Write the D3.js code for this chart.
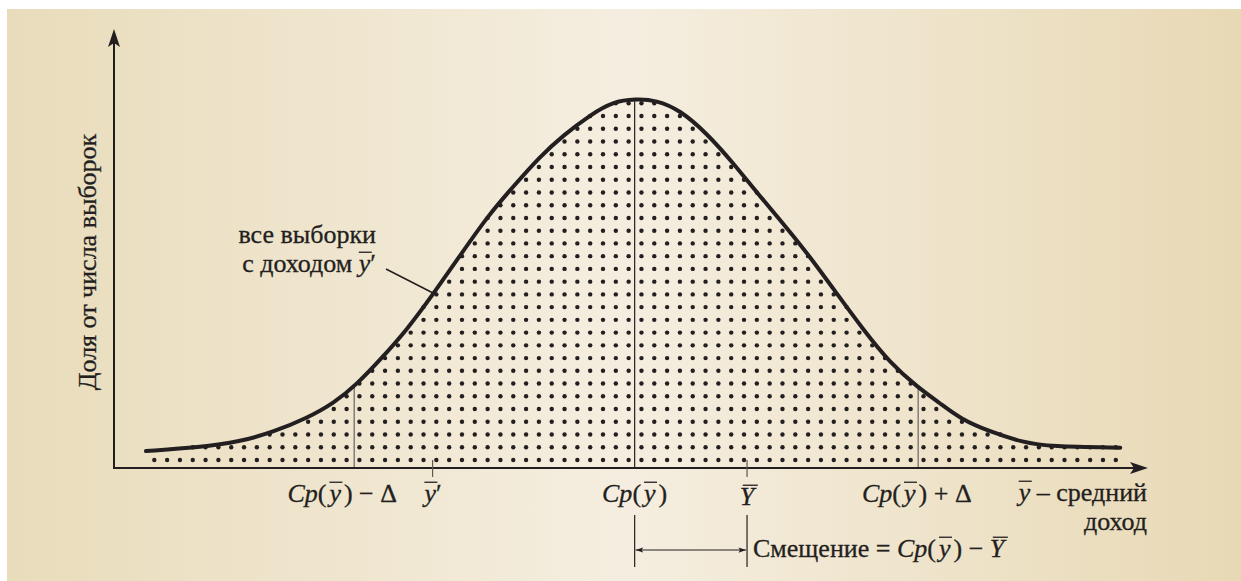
<!DOCTYPE html>
<html>
<head>
<meta charset="utf-8">
<script src="https://cdn.jsdelivr.net/npm/d3@7"></script>
</head>
<body style="margin:0;background:#fff">
<script>
// curve: income (0..100) vs share of samples (0..100)
const incomeX = [3.1, 8.3, 12.2, 15.5, 18.7, 21.3, 23.6, 25.8, 28.4, 31.0, 33.6, 36.2, 38.7, 41.3, 43.6, 46.2, 48.4, 50.6,
                 52.6, 54.9, 57.5, 60.1, 62.3, 64.9, 67.5, 70.1, 72.7, 75.3, 77.9, 80.1, 82.1, 85.0, 88.2, 90.8, 97.6]
const share = [4.6, 5.6, 7.1, 9.8, 13.5, 17.5, 22.8, 29.3, 37.4, 47.3, 57.7, 68.1, 76.2, 84.4, 90.2, 95.7, 99.3, 100,
               99.7, 97.0, 90.7, 82.5, 74.8, 66.3, 57.3, 47.3, 37.4, 28.4, 22.0, 17.6, 13.3, 9.8, 6.9, 5.8, 5.5]

// marked positions on the income axis
const meanCp = 50.5      // Cp(y)
const minusDelta = 23.3  // Cp(y) - Δ
const plusDelta = 78.0   // Cp(y) + Δ
const sampleY = 30.9     // y'
const trueY = 61.4       // Y

const W = 1241, H = 581
const ink = "#231f20"
const FS = 26

const x = d3.scaleLinear().domain([0, 100]).range([114, 1145])
const y = d3.scaleLinear().domain([0, 100]).range([468, 99])

const svg = d3.select("body").append("svg").attr("width", W).attr("height", H)

// background panel with soft gradient
const defs = svg.append("defs")
const grad = defs.append("linearGradient").attr("id", "bg")
grad.append("stop").attr("offset", "0%").attr("stop-color", "#e9dcbb")
grad.append("stop").attr("offset", "50%").attr("stop-color", "#f5eee0")
grad.append("stop").attr("offset", "100%").attr("stop-color", "#e8d9b5")

const small = defs.append("marker").attr("id", "tip").attr("viewBox", "0 -4 10 8")
  .attr("refX", 10).attr("refY", 0).attr("markerWidth", 8).attr("markerHeight", 6)
  .attr("markerUnits", "userSpaceOnUse").attr("orient", "auto-start-reverse")
small.append("path").attr("d", "M0,-3.5L10,0L0,3.5L2,0Z").attr("fill", ink)

svg.append("rect").attr("width", W).attr("height", H).attr("fill", "#fff")
svg.append("rect").attr("x", 7).attr("y", 9).attr("width", W - 7).attr("height", H - 9).attr("fill", "url(#bg)")

// smooth curve through the read points
const pts = incomeX.map((v, i) => [v, share[i]])
const curve = d3.line().x(d => x(d[0])).y(d => y(d[1])).curve(d3.curveBasis)
const curvePath = curve(pts)

// sample the drawn path so dots follow the same outline
const probe = svg.append("path").attr("d", curvePath).attr("fill", "none")
const len = probe.node().getTotalLength()
const outline = d3.range(0, len, 2).map(l => probe.node().getPointAtLength(l))
probe.remove()
const curveAt = d3.scaleLinear().domain(outline.map(p => p.x)).range(outline.map(p => p.y)).clamp(true)

// dotted fill under the curve
const dots = []
for (let r = 0; r < 29; r++) {
  for (let c = 0; c < 76; c++) {
    const px = 154.3 + c * 12.82, py = 460 - r * 12.74
    if (py >= curveAt(px) - 0.8) dots.push([px, py])
  }
}
svg.append("g").selectAll("circle").data(dots).enter()
  .append("circle")
  .attr("cx", d => d[0]).attr("cy", d => d[1]).attr("r", 2.2)
  .attr("fill", ink)

// vertical reference lines up to the curve
svg.append("line").attr("x1", x(meanCp)).attr("x2", x(meanCp))
  .attr("y1", y(0)).attr("y2", curveAt(x(meanCp)))
  .attr("stroke", ink).attr("stroke-width", 1.2)
;[minusDelta, plusDelta].forEach(v => {
  svg.append("line").attr("x1", x(v)).attr("x2", x(v))
    .attr("y1", y(0)).attr("y2", curveAt(x(v)))
    .attr("stroke", "#7d776e").attr("stroke-width", 1.4)
})

// the curve itself
svg.append("path").attr("d", curvePath)
  .attr("fill", "none").attr("stroke", ink).attr("stroke-width", 4).attr("stroke-linecap", "round")

// axes with arrowheads
svg.append("line").attr("x1", 114).attr("x2", 114).attr("y1", 469).attr("y2", 40)
  .attr("stroke", ink).attr("stroke-width", 2)
svg.append("line").attr("x1", 113).attr("x2", 1135).attr("y1", 468).attr("y2", 468)
  .attr("stroke", ink).attr("stroke-width", 2)
svg.append("path").attr("d", "M114,29L120,47L114,43L108,47Z").attr("fill", ink)
svg.append("path").attr("d", "M1148,468L1130,462L1134,468L1130,474Z").attr("fill", ink)

// small ticks for y' and Y
;[sampleY, trueY].forEach(v => {
  svg.append("line").attr("x1", x(v)).attr("x2", x(v)).attr("y1", 460).attr("y2", 477)
    .attr("stroke", "#5e5850").attr("stroke-width", 1.2)
})

function serif(t) {
  return t.style("font-family", '"Liberation Serif"')
    .style("font-size", FS + "px").attr("fill", ink)
    .attr("stroke", ink).attr("stroke-width", 0.3)
}

// text with italic parts and overlined letters; several lines go into one text element
function mathLabel(xp, yp, anchor, lines, lh) {
  if (!Array.isArray(lines[0][0])) lines = [lines]
  const t = serif(svg.append("text").attr("x", xp).attr("y", yp).attr("text-anchor", anchor))
  lines.forEach((parts, li) => {
    const base = yp + li * (lh || 29)
    parts.forEach((p, pi) => {
      const s = t.append("tspan").text(p[0])
      if (pi === 0) s.attr("x", xp).attr("y", base)
      if (p[1].includes("i")) s.style("font-style", "italic")
      if (p[1].includes("b")) s.attr("class", "bar").attr("data-base", base)
      if (p[2]) s.attr("dx", p[2])
    })
  })
  t.selectAll("tspan.bar").each(function () {
    const b = this.getBBox()
    const by = +this.getAttribute("data-base") - 0.76 * FS
    svg.append("line").attr("x1", b.x + 3).attr("x2", b.x + b.width + 1)
      .attr("y1", by).attr("y2", by)
      .attr("stroke", ink).attr("stroke-width", 1.3)
  })
  return t
}

const cpParts = [["Cp", "i"], ["(", ""], ["y", "ib", 3], [")", "", 3]]

mathLabel(397, 502, "end", cpParts.concat([[" − Δ", ""]]))
mathLabel(433, 502, "middle", [["y", "ib"], ["′", ""]])
mathLabel(x(meanCp), 502, "middle", cpParts)
mathLabel(x(trueY), 505, "middle", [["Y", "ib"]])
mathLabel(862, 502, "start", cpParts.concat([[" + Δ", ""]]))
mathLabel(1147, 501, "end", [[["y", "ib"], [" – средний", ""]], [["доход", ""]]], 29)

// curve annotation
mathLabel(376, 243, "end", [[["все выборки", ""]], [["с доходом ", ""], ["y", "ib"], ["′", ""]]], 29)
svg.append("line").attr("x1", 386).attr("y1", 269).attr("x2", 433).attr("y2", 293)
  .attr("stroke", ink).attr("stroke-width", 1.5)

// y axis title
serif(svg.append("text").attr("transform", "translate(96,262) rotate(-90)")
  .attr("text-anchor", "middle")).text("Доля от числа выборок")

// bias bracket
;[meanCp, trueY].forEach(v => {
  svg.append("line").attr("x1", x(v)).attr("x2", x(v)).attr("y1", 515).attr("y2", 567)
    .attr("stroke", ink).attr("stroke-width", 1.2)
})
svg.append("line").attr("x1", x(meanCp) + 1).attr("x2", x(trueY) - 1).attr("y1", 550).attr("y2", 550)
  .attr("stroke", ink).attr("stroke-width", 1.2)
  .attr("marker-start", "url(#tip)").attr("marker-end", "url(#tip)")
mathLabel(753, 557, "start", [["Смещение = ", ""], ["Cp", "i"], ["(", ""], ["y", "ib", 3], [")", "", 3], [" − ", ""], ["Y", "ib"]])
</script>
</body>
</html>
